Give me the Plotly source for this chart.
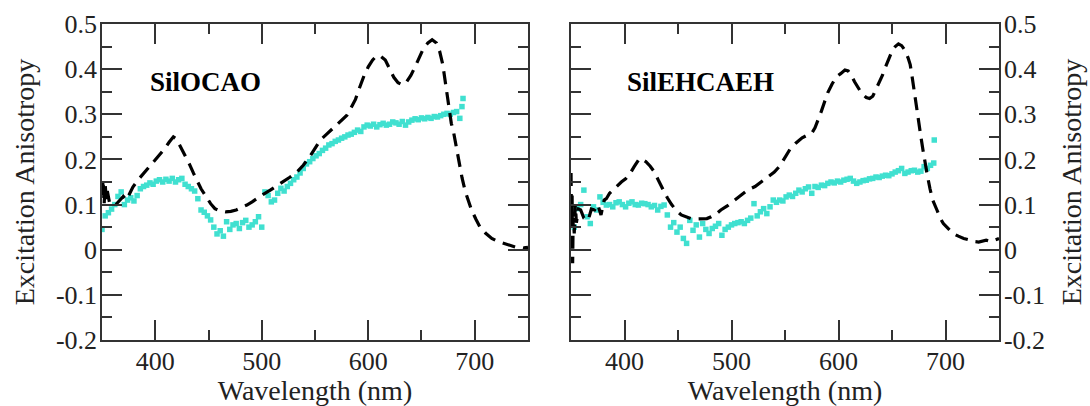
import plotly.graph_objects as go

# ---------------- data ----------------
left_line_x = [350, 351, 352, 353, 354, 355, 357, 360, 363, 367, 370, 373, 376, 379, 384, 389, 394, 400,
               405, 409, 413, 417, 420, 423, 428, 432, 436, 440, 443, 448, 452, 456, 461, 466, 471, 476,
               481, 486, 491, 495, 501, 508, 514, 520, 526, 533, 539, 545, 550, 555, 561, 567, 574, 580,
               584, 588, 592, 596, 600, 604, 608, 612, 616, 620, 624, 628, 632, 636, 640, 644, 648, 652,
               656, 660, 664, 667, 670, 672, 674, 676, 678, 680, 682, 684, 686, 688, 691, 694, 697, 701,
               705, 710, 716, 721, 727, 733, 738, 742, 746, 750]
left_line_y = [0.12, 0.155, 0.10, 0.145, 0.11, 0.13, 0.105, 0.099, 0.10, 0.11, 0.118, 0.11, 0.125, 0.139,
               0.155, 0.169, 0.183, 0.198, 0.212, 0.224, 0.238, 0.25, 0.245, 0.232, 0.21, 0.19, 0.169,
               0.15, 0.135, 0.117, 0.102, 0.091, 0.086, 0.084, 0.085, 0.088, 0.093, 0.099, 0.106, 0.113,
               0.122, 0.132, 0.141, 0.15, 0.16, 0.172, 0.187, 0.206, 0.225, 0.243, 0.256, 0.269, 0.283,
               0.298, 0.315, 0.333, 0.36, 0.385, 0.405, 0.42, 0.43, 0.428, 0.42, 0.40, 0.382, 0.37, 0.365,
               0.372, 0.386, 0.405, 0.428, 0.447, 0.458, 0.465, 0.458, 0.44, 0.41, 0.375, 0.34, 0.31,
               0.28, 0.262, 0.235, 0.21, 0.184, 0.16, 0.13, 0.108, 0.088, 0.068, 0.05, 0.037, 0.025,
               0.019, 0.014, 0.01, 0.006, 0.006, 0.004, 0.005]

left_dots_x = list(range(350, 690, 3)) + [688]
left_dots_y = [0.045, 0.075, 0.082, 0.090, 0.100, 0.118, 0.128, 0.100, 0.110, 0.115,
               0.108, 0.120, 0.135, 0.140, 0.143, 0.148, 0.145, 0.152, 0.155, 0.150,
               0.156, 0.152, 0.158, 0.150, 0.155, 0.158, 0.145, 0.140, 0.135, 0.130,
               0.113, 0.088, 0.083, 0.075, 0.066, 0.050, 0.035, 0.042, 0.030, 0.062,
               0.045, 0.055, 0.058, 0.047, 0.060, 0.065, 0.050, 0.055, 0.062, 0.073,
               0.050, 0.128, 0.120, 0.106, 0.110, 0.125, 0.136, 0.130, 0.140, 0.147,
               0.155, 0.161, 0.170, 0.180, 0.190, 0.195, 0.202, 0.208, 0.213, 0.220,
               0.225, 0.232, 0.235, 0.240, 0.243, 0.247, 0.250, 0.254, 0.256, 0.260,
               0.265, 0.262, 0.272, 0.276, 0.274, 0.278, 0.272, 0.277, 0.280, 0.276,
               0.278, 0.283, 0.281, 0.278, 0.284, 0.276, 0.283, 0.287, 0.290, 0.288,
               0.292, 0.290, 0.293, 0.291, 0.295, 0.294, 0.297, 0.300, 0.302, 0.300,
               0.304, 0.306, 0.291, 0.335, 0.317]

right_line_x = [350, 350.5, 351, 351.5, 352, 353, 354, 355, 357, 359, 362, 366, 369, 372, 375, 378, 381,
                383, 386, 389, 393, 397, 401, 405, 409, 412, 414, 417, 420, 424, 428, 432, 436, 440, 444,
                448, 453, 458, 462, 467, 472, 477, 481, 486, 490, 496, 503, 509, 515, 522, 528, 534, 540,
                545, 550, 555, 560, 566, 571, 575, 578, 581, 584, 587, 590, 594, 598, 602, 606, 609, 612,
                615, 618, 622, 626, 629, 632, 635, 638, 641, 644, 647, 650, 653, 656, 659, 662, 665, 667,
                669, 671, 673, 675, 677, 679, 681, 683, 685.5, 688, 692, 695, 698, 702, 707, 712, 717,
                722, 727, 731, 735, 738, 742, 746, 750]
right_line_y = [0.17, 0.05, 0.12, -0.03, 0.07, 0.036, 0.10, 0.06, 0.09, 0.088, 0.07, 0.065, 0.09, 0.088,
                0.10, 0.077, 0.11, 0.113, 0.125, 0.132, 0.142, 0.15, 0.157, 0.168, 0.184, 0.196, 0.202,
                0.20, 0.195, 0.185, 0.172, 0.152, 0.132, 0.115, 0.10, 0.088, 0.077, 0.072, 0.069, 0.068,
                0.068, 0.069, 0.073, 0.08, 0.088, 0.097, 0.11, 0.12, 0.132, 0.14, 0.15, 0.16, 0.172,
                0.185, 0.205, 0.224, 0.236, 0.248, 0.254, 0.258, 0.27, 0.287, 0.307, 0.328, 0.348, 0.367,
                0.383, 0.39, 0.398, 0.396, 0.386, 0.372, 0.36, 0.345, 0.337, 0.335, 0.34, 0.355, 0.37,
                0.386, 0.405, 0.425, 0.44, 0.45, 0.456, 0.452, 0.442, 0.425, 0.41, 0.38, 0.345, 0.31,
                0.28, 0.25, 0.22, 0.19, 0.165, 0.135, 0.11, 0.088, 0.07, 0.058, 0.048, 0.036, 0.03,
                0.025, 0.022, 0.018, 0.017, 0.019, 0.021, 0.018, 0.022, 0.025]

right_dots_x = list(range(350, 690, 3)) + [689.5]
right_dots_y = [0.060, 0.050, 0.091, 0.100, 0.132, 0.073, 0.058, 0.095, 0.088, 0.117,
                0.105, 0.099, 0.100, 0.095, 0.104, 0.106, 0.100, 0.095, 0.103, 0.106,
                0.100, 0.099, 0.103, 0.102, 0.100, 0.095, 0.098, 0.088, 0.096, 0.099,
                0.077, 0.050, 0.060, 0.039, 0.050, 0.025, 0.014, 0.065, 0.043, 0.055,
                0.028, 0.058, 0.045, 0.036, 0.047, 0.052, 0.058, 0.032, 0.045, 0.050,
                0.055, 0.058, 0.060, 0.062, 0.058, 0.065, 0.070, 0.102, 0.075, 0.084,
                0.091, 0.080, 0.095, 0.110, 0.105, 0.110, 0.108, 0.117, 0.121, 0.118,
                0.125, 0.132, 0.128, 0.135, 0.139, 0.125, 0.140, 0.138, 0.143, 0.142,
                0.147, 0.150, 0.148, 0.152, 0.150, 0.154, 0.156, 0.158, 0.152, 0.147,
                0.150, 0.153, 0.154, 0.157, 0.158, 0.161, 0.160, 0.163, 0.165, 0.164,
                0.168, 0.172, 0.175, 0.180, 0.169, 0.172, 0.175, 0.176, 0.172, 0.174,
                0.184, 0.180, 0.187, 0.192, 0.243]

x_tick_vals = [400, 500, 600, 700]
x_tick_text = ["400", "500", "600", "700"]
y_tick_vals = [-0.2, -0.1, 0, 0.1, 0.2, 0.3, 0.4, 0.5]
y_tick_text = ["-0.2", "-0.1", "0", "0.1", "0.2", "0.3", "0.4", "0.5"]
panel_labels = ["SilOCAO", "SilEHCAEH"]
label_pos_x = [447, 471]
label_pos_y = [0.371, 0.371]

# ---------------- figure ----------------
FONT = "Liberation Serif, Times New Roman, serif"
AX = "#333333"
CYAN = "#40E0D0"

fig = go.Figure()
for xr, yr, lx, ly, dx, dy in [("x", "y", left_line_x, left_line_y, left_dots_x, left_dots_y),
                               ("x2", "y2", right_line_x, right_line_y, right_dots_x, right_dots_y)]:
    fig.add_trace(go.Scatter(x=dx, y=dy, mode="markers", xaxis=xr, yaxis=yr,
                             marker=dict(symbol="square", size=5.5, color=CYAN, line=dict(width=0)),
                             showlegend=False))
    fig.add_trace(go.Scatter(x=lx, y=ly, mode="lines", xaxis=xr, yaxis=yr,
                             line=dict(color="black", width=3.2, dash="13px,8px"),
                             showlegend=False))

TICKFONT = dict(family=FONT, size=26, color="#222")
TITLEFONT = dict(family=FONT, size=28, color="#222")

common_x = dict(range=[350, 750], showline=True, linecolor=AX, linewidth=1.5, mirror="ticks",
                ticks="inside", ticklen=20, tickwidth=1.5, tickcolor=AX, automargin=False,
                tickvals=x_tick_vals, ticktext=x_tick_text, showgrid=False, zeroline=False,
                tickfont=TICKFONT, ticklabelstandoff=-3,
                minor=dict(ticks="inside", ticklen=10, tickwidth=1.5, tickcolor=AX, dtick=50, tick0=350,
                           showgrid=False),
                title=dict(text="Wavelength (nm)", font=TITLEFONT, standoff=9))
common_y = dict(range=[-0.2, 0.5], showline=True, linecolor=AX, linewidth=1.5, mirror="ticks",
                ticks="inside", ticklen=20, tickwidth=1.5, tickcolor=AX, automargin=False,
                tickvals=y_tick_vals, ticktext=y_tick_text, showgrid=False, zeroline=False,
                tickfont=TICKFONT, ticklabelstandoff=-2,
                minor=dict(ticks="inside", ticklen=10, tickwidth=1.5, tickcolor=AX, dtick=0.05, tick0=0,
                           showgrid=False))

fig.update_layout(
    width=1090, height=406,
    margin=dict(l=102, r=91, t=24, b=66),
    paper_bgcolor="white", plot_bgcolor="white",
    xaxis=dict(domain=[0, 0.4749], anchor="y", **common_x),
    yaxis=dict(domain=[0, 1], anchor="x", side="left",
               title=dict(text="Excitation Anisotropy", font=TITLEFONT, standoff=13), **common_y),
    xaxis2=dict(domain=[0.5229, 1], anchor="y2", **common_x),
    yaxis2=dict(domain=[0, 1], anchor="x2", side="right",
                title=dict(text="Excitation Anisotropy", font=TITLEFONT, standoff=17), **common_y),
)

for i, (txt, ax, ay) in enumerate(zip(panel_labels, label_pos_x, label_pos_y)):
    fig.add_annotation(x=ax, y=ay, xref="x" if i == 0 else "x2", yref="y" if i == 0 else "y2",
                       text="<b>" + txt + "</b>", showarrow=False,
                       font=dict(family=FONT, size=27, color="black"))

fig.write_html("out.html")
